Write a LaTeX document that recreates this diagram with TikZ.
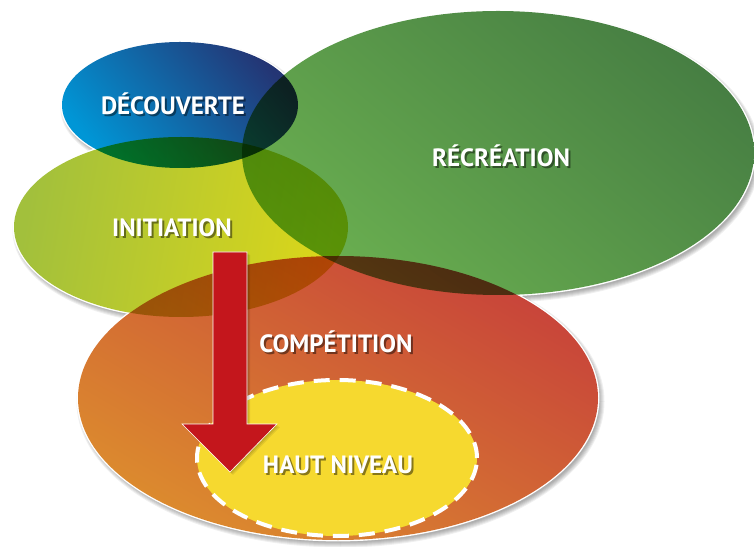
\documentclass[tikz,border=0pt]{standalone}
\usepackage{fontspec}
\setmainfont{PT Sans}
\definecolor{dTop}{HTML}{243574}
\definecolor{dMid}{HTML}{0A82C2}
\definecolor{dBot}{HTML}{0096D6}
\definecolor{iLeft}{HTML}{A2C03C}
\definecolor{iRight}{HTML}{DCD719}
\definecolor{rTop}{HTML}{477F43}
\definecolor{rMid}{HTML}{62A44E}
\definecolor{rBot}{HTML}{6AAF50}
\definecolor{cTop}{HTML}{C8443A}
\definecolor{cMid}{HTML}{D8782F}
\definecolor{cBot}{HTML}{DC8B2E}
\definecolor{hnFill}{HTML}{F6D92F}
\definecolor{arrRed}{HTML}{C4161C}
\begin{document}
\begin{tikzpicture}[x=1pt,y=1pt,
  lbl/.style={font=\fontsize{25}{29}\selectfont\bfseries, text=white, anchor=base, inner sep=0pt},
  lblsh/.style={lbl, text=black, opacity=0.45},
  mult/.style={blend mode=multiply}]
\useasboundingbox (0,0) rectangle (754,546);
\fill[white] (0,0) rectangle (754,546);

\coordinate (cD) at (180,441);
\coordinate (cI) at (181,319);
\coordinate (cR) at (498,393);
\coordinate (cC) at (338,148);
\coordinate (cH) at (337,88);

% soft shadows
\foreach \c/\a/\b in {cD/118/63, cI/167/90, cR/256/142, cC/260/142} {
  \foreach \d in {0,1,2,3,4,5} {
    \fill[black, opacity=0.06] ([shift={(2.5,-3.5)}]\c) ellipse [x radius={\a+\d-1}, y radius={\b+\d-1}];
  }
}
% white rims (erase shadows under shapes)
\foreach \c/\a/\b in {cD/118/63, cI/167/90, cR/256/142, cC/260/142} {
  \fill[white] (\c) ellipse [x radius={\a+1.4}, y radius={\b+1.4}];
}

% coloured ellipses, multiplied
\shade[mult, top color=rTop, middle color=rMid, bottom color=rBot, shading angle=-40] (cR) ellipse [x radius=256, y radius=142];
\shade[mult, left color=iLeft, right color=iRight, shading angle=80] (cI) ellipse [x radius=167, y radius=90];
\shade[mult, top color=dTop, middle color=dMid, bottom color=dBot, shading angle=-50] (cD) ellipse [x radius=118, y radius=63];
\shade[mult, top color=cTop, middle color=cMid, bottom color=cBot, shading angle=-30] (cC) ellipse [x radius=260, y radius=142];

% haut niveau
\fill[hnFill] (cH) ellipse [x radius=140, y radius=78];
\draw[white, line width=4pt, dash pattern=on 16pt off 10pt] (cH) ellipse [x radius=140, y radius=78];

% arrow
\coordinate (aTop) at (230,294);
\coordinate (aTip) at (230,74);
\foreach \d in {1,2,3} {
  \fill[black, opacity=0.08, shift={(\d,-\d)}]
    (213,294) -- (247,294) -- (247,122) -- (277,122) -- (230,74) -- (182,122) -- (213,122) -- cycle;
}
\filldraw[fill=arrRed, draw=white, line width=0.6pt]
  (213,294) -- (247,294) -- (247,122) -- (277,122) -- (aTip) -- (182,122) -- (213,122) -- cycle;

% labels
\foreach \n/\p/\t in {d/{173,431}/DÉCOUVERTE, i/{172,309}/INITIATION, r/{501,379}/RÉCRÉATION, c/{336,193}/COMPÉTITION, h/{338,73}/HAUT NIVEAU} {
  \node[lblsh] (\n s) at ([shift={(2,-2)}]\p) {\t};
  \node[lbl] (\n) at (\p) {\t};
}
\end{tikzpicture}
\end{document}
